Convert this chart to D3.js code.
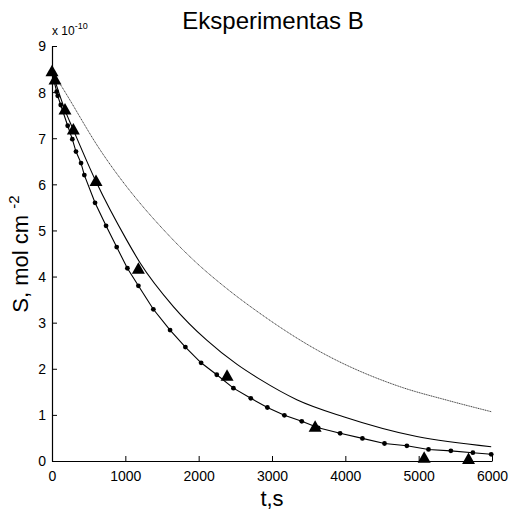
<!DOCTYPE html>
<html>
<head>
<meta charset="utf-8">
<script src="https://cdn.jsdelivr.net/npm/d3@7"></script>
<style>
  body { margin: 0; background: #fff; }
  text { font-family: "Liberation Sans", Arial, sans-serif; fill: #000; }
</style>
</head>
<body>
<svg width="514" height="512"></svg>
<script>
const svg = d3.select("svg");

// data (S in units of 1e-10 mol cm^-2, t in s)
const dotT = [0, 64, 78, 119, 214, 277, 327, 396, 441, 587, 737, 882, 1028, 1178, 1382, 1610, 1819, 2033, 2247, 2474, 2711, 2937, 3169, 3406, 3630, 3929, 4233, 4534, 4839, 5134, 5439, 5739, 5989];
const dotS = [8.42, 8.01, 7.92, 7.72, 7.27, 6.98, 6.71, 6.46, 6.20, 5.60, 5.10, 4.64, 4.18, 3.80, 3.29, 2.84, 2.47, 2.13, 1.87, 1.58, 1.36, 1.16, 0.99, 0.86, 0.72, 0.60, 0.49, 0.38, 0.33, 0.25, 0.22, 0.18, 0.145];

const midT = [0, 177, 291, 600, 1019, 1200, 1655, 2110, 2519, 2837, 3338, 3975, 4975, 5989];
const midS = [8.45, 7.61, 7.18, 6.06, 4.79, 4.30, 3.35, 2.62, 2.10, 1.77, 1.33, 0.96, 0.53, 0.31];

const upT = [0, 132, 655, 1655, 1928, 2383, 2837, 3611, 4748, 5384, 5989];
const upS = [8.45, 8.12, 6.75, 4.79, 4.36, 3.74, 3.20, 2.41, 1.61, 1.32, 1.07];

const triT = [0, 41, 177, 291, 600, 1178, 2387, 3588, 5075, 5680];
const triS = [8.44, 8.26, 7.61, 7.18, 6.06, 4.16, 1.84, 0.73, 0.06, 0.03];

const xTicks = [0, 1000, 2000, 3000, 4000, 5000, 6000];
const yTicks = [0, 1, 2, 3, 4, 5, 6, 7, 8, 9];

const x = d3.scaleLinear().domain([0, 6000]).range([52, 492]);
const y = d3.scaleLinear().domain([0, 9]).range([461, 46]);

const line = d3.line().x(d => x(d[0])).y(d => y(d[1]));
const smooth = d3.line().x(d => x(d[0])).y(d => y(d[1])).curve(d3.curveMonotoneX);
const zip = (a, b) => a.map((v, i) => [v, b[i]]);

// axes
const xAxis = svg.append("g")
  .attr("transform", `translate(0,${y(0)})`)
  .call(d3.axisBottom(x).tickValues(xTicks).tickSizeInner(-5).tickSizeOuter(0).tickPadding(10).tickFormat(d3.format("d")));
const yAxis = svg.append("g")
  .attr("transform", `translate(${x(0)},0)`)
  .call(d3.axisLeft(y).tickValues(yTicks).tickSizeInner(-5).tickSizeOuter(0).tickPadding(6).tickFormat(d3.format("d")));
[xAxis, yAxis].forEach(g => {
  g.select(".domain").attr("stroke", "#000").attr("stroke-width", 1.2);
  g.selectAll(".tick line").attr("stroke", "#000");
  g.selectAll(".tick text").style("font-size", "14px").attr("fill", "#000");
});
yAxis.selectAll(".tick text").attr("dy", "0.35em");

// upper thin dotted curve
svg.append("path")
  .datum(zip(upT, upS))
  .attr("d", smooth)
  .attr("fill", "none")
  .attr("stroke", "#111")
  .attr("stroke-width", 0.8)
  .attr("stroke-dasharray", "1.2,0.6");

// middle solid curve
svg.append("path")
  .datum(zip(midT, midS))
  .attr("d", smooth)
  .attr("fill", "none")
  .attr("stroke", "#000")
  .attr("stroke-width", 1.1);

// curve with dots
svg.append("path")
  .datum(zip(dotT, dotS))
  .attr("d", line)
  .attr("fill", "none")
  .attr("stroke", "#000")
  .attr("stroke-width", 1.1);
svg.append("g")
  .selectAll("circle")
  .data(zip(dotT, dotS))
  .join("circle")
  .attr("cx", d => x(d[0]))
  .attr("cy", d => y(d[1]))
  .attr("r", 2.4)
  .attr("fill", "#000");

// triangles (experiment)
svg.append("g")
  .selectAll("path")
  .data(zip(triT, triS))
  .join("path")
  .attr("transform", d => `translate(${x(d[0])},${y(d[1])})`)
  .attr("d", "M0,-7L6.5,4.5L-6.5,4.5Z")
  .attr("fill", "#000");

// texts
svg.append("text")
  .attr("x", 273).attr("y", 29)
  .attr("text-anchor", "middle")
  .style("font-size", "24px")
  .text("Eksperimentas B");

const exp = svg.append("text")
  .attr("x", 52).attr("y", 35)
  .style("font-size", "12px");
exp.append("tspan").text("x 10");
exp.append("tspan").attr("dy", -6).style("font-size", "9px").text("-10");

svg.append("text")
  .attr("x", 272).attr("y", 506)
  .attr("text-anchor", "middle")
  .style("font-size", "22px")
  .text("t,s");

const yl = svg.append("text")
  .attr("transform", "translate(28,254) rotate(-90)")
  .attr("text-anchor", "middle")
  .style("font-size", "22px");
yl.append("tspan").text("S, mol cm ");
yl.append("tspan").attr("dy", -9).style("font-size", "15px").text("-2");
</script>
</body>
</html>
